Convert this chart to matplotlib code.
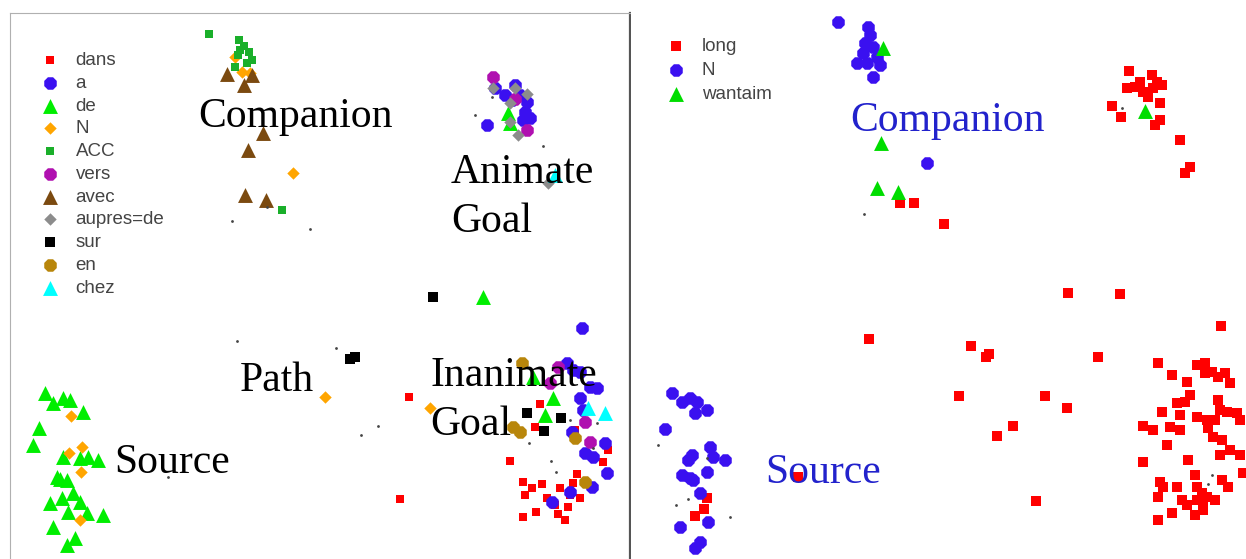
import matplotlib
matplotlib.use("Agg")
import matplotlib.pyplot as plt
import numpy as np

W, H = 1246, 559

# ---- left map: French prepositions ----
dans = [(409, 397), (400, 499), (510, 461), (540, 404), (535, 427), (523, 482), (525, 495),
        (532, 488), (542, 484), (523, 517), (536, 512), (558, 514), (547, 498), (560, 488),
        (570, 495), (580, 498), (568, 507), (577, 474), (573, 483), (603, 462), (608, 450),
        (575, 430), (555, 505), (565, 520)]
a_pts = [(495, 88), (505, 95), (515, 85), (520, 95), (527, 102), (525, 112), (523, 120),
         (512, 100), (487, 125), (530, 118),
         (582, 328), (567, 363), (573, 370), (580, 372), (590, 387), (597, 388), (580, 398),
         (583, 410), (572, 432), (605, 443), (585, 453), (593, 457), (607, 473), (570, 492),
         (552, 502), (592, 487)]
de = [(45, 393), (53, 403), (63, 398), (70, 400), (83, 412), (39, 428), (33, 445), (63, 457),
      (80, 458), (88, 457), (98, 460), (57, 477), (67, 480), (60, 479), (73, 493), (50, 503),
      (62, 498), (80, 502), (68, 512), (87, 513), (103, 515), (53, 527), (75, 538), (67, 545),
      (483, 297), (508, 113), (510, 123), (553, 398), (545, 415), (533, 377)]
n_fr = [(235, 57), (242, 72), (250, 73), (293, 173), (325, 397), (430, 408),
        (71, 416), (82, 447), (69, 453), (81, 472), (80, 520)]
acc = [(209, 34), (239, 40), (244, 46), (249, 52), (252, 60), (238, 55), (247, 63),
       (235, 67), (240, 50), (282, 210)]
vers = [(493, 77), (515, 99), (527, 130), (558, 367), (550, 383), (585, 422), (590, 442)]
avec = [(227, 74), (252, 75), (244, 85), (263, 133), (248, 150), (245, 195), (266, 200)]
aupres = [(493, 88), (515, 88), (527, 94), (510, 103), (510, 122), (518, 135), (548, 183)]
sur = [(433, 297), (350, 359), (355, 357), (527, 413), (544, 431), (561, 418)]
en = [(522, 363), (513, 427), (520, 432), (575, 438), (585, 482)]
chez = [(555, 175), (588, 408), (605, 413)]
dots_fr = [(232, 221), (310, 229), (267, 207), (492, 97), (475, 115), (543, 146), (237, 341),
           (168, 477), (336, 348), (361, 435), (378, 426), (529, 443), (551, 461), (556, 472),
           (570, 420), (597, 423), (593, 448)]

# ---- right map: Tok Pisin ----
long_pts = [(1129, 71), (1140, 82), (1152, 75), (1157, 82), (1162, 85), (1127, 88), (1135, 87),
            (1143, 92), (1148, 97), (1153, 88), (1160, 103), (1112, 106), (1121, 117),
            (1155, 125), (1160, 120), (1180, 140), (1190, 167), (1185, 173),
            (900, 203), (914, 203), (944, 224),
            (1068, 293), (1120, 294), (869, 339), (1221, 326), (971, 346), (986, 357), (989, 354),
            (1098, 357), (959, 396), (1045, 396), (1067, 408), (1013, 426), (997, 436),
            (1036, 501), (798, 477), (707, 498), (704, 509), (695, 516),
            (1158, 363), (1172, 375), (1187, 382), (1197, 365), (1205, 363), (1205, 373),
            (1212, 372), (1218, 377), (1225, 373), (1230, 383), (1190, 395), (1185, 402),
            (1177, 403), (1162, 412), (1180, 415), (1197, 417), (1207, 420), (1218, 400),
            (1220, 410), (1227, 412), (1237, 413), (1240, 420), (1215, 420), (1143, 426),
            (1153, 430), (1170, 427), (1180, 430), (1208, 428), (1213, 437), (1222, 440),
            (1230, 450), (1240, 455), (1220, 455), (1167, 445), (1143, 462), (1188, 460),
            (1243, 473), (1195, 475), (1160, 482), (1163, 487), (1177, 487), (1197, 487),
            (1202, 493), (1207, 497), (1215, 500), (1203, 505), (1197, 500), (1222, 480),
            (1228, 487), (1158, 497), (1182, 500), (1187, 505), (1158, 520), (1172, 513),
            (1195, 515), (1203, 510)]
n_tp = [(838, 22), (868, 27), (870, 35), (865, 43), (873, 47), (863, 53), (877, 57), (857, 63),
        (867, 63), (880, 65), (873, 77), (927, 163),
        (672, 393), (682, 402), (690, 398), (697, 402), (695, 413), (707, 410), (665, 429),
        (710, 447), (713, 457), (692, 455), (688, 460), (725, 460), (707, 472), (682, 475),
        (690, 478), (693, 480), (700, 493), (708, 522), (680, 527), (700, 542), (695, 548)]
wantaim = [(883, 48), (881, 143), (877, 188), (898, 192), (1145, 111)]
dots_tp = [(864, 214), (1122, 108), (658, 445), (676, 505), (688, 499), (730, 517),
           (707, 458), (1212, 475), (1208, 484)]

fr_series = [
    ("dans", dans, "s", "#ff0000", 38),
    ("a", a_pts, "8", "#3a10f0", 95),
    ("de", de, "^", "#00ee00", 115),
    ("N", n_fr, "D", "#ffa500", 40),
    ("ACC", acc, "s", "#1aaf2a", 38),
    ("vers", vers, "8", "#b010b0", 95),
    ("avec", avec, "^", "#7b4a10", 115),
    ("aupres=de", aupres, "D", "#8c8c8c", 40),
    ("sur", sur, "s", "#000000", 42),
    ("en", en, "8", "#b8860b", 95),
    ("chez", chez, "^", "#00ffff", 115),
]
tp_series = [
    ("long", long_pts, "s", "#ff0000", 42),
    ("N", n_tp, "8", "#3a10f0", 95),
    ("wantaim", wantaim, "^", "#00dd00", 115),
]

fig = plt.figure(figsize=(W / 100, H / 100), dpi=100)
fig.patch.set_facecolor("white")


def make_ax(x0, x1, y0, y1):
    ax = fig.add_axes([x0 / W, 1 - y1 / H, (x1 - x0) / W, (y1 - y0) / H])
    ax.set_xlim(x0, x1)
    ax.set_ylim(y1, y0)
    ax.set_xticks([])
    ax.set_yticks([])
    return ax


def draw(ax, series, dots):
    for name, pts, mk, col, size in series:
        xy = np.array(pts, dtype=float)
        ax.scatter(xy[:, 0], xy[:, 1], marker=mk, s=size, c=col, linewidths=0,
                   label=name, zorder=3)
    d = np.array(dots, dtype=float)
    ax.scatter(d[:, 0], d[:, 1], s=4, c="#444444", linewidths=0, zorder=3,
               label="_nolegend_")


def add_legend(ax, x_handle, y_top, rowpad):
    leg = ax.legend(loc="upper left", bbox_to_anchor=(x_handle / W, 1 - y_top / H),
                    bbox_transform=fig.transFigure, frameon=False, borderpad=0,
                    borderaxespad=0, handlelength=1.0,
                    handletextpad=0.85, labelspacing=rowpad, scatterpoints=1,
                    prop={"family": "Liberation Sans", "size": 13.5})
    for t in leg.get_texts():
        t.set_color("#444444")
    return leg


serif = {"family": "Liberation Serif", "size": 30}

# left panel
ax1 = make_ax(10, 630, 13, 570)
for side in ["left", "top"]:
    ax1.spines[side].set_color("#b0b0b0")
ax1.spines["right"].set_color("#555555")
ax1.spines["right"].set_linewidth(1.6)
ax1.spines["bottom"].set_visible(False)
draw(ax1, fr_series, dots_fr)
add_legend(ax1, 41, 52, 0.30)
ax1.text(198, 127, "Companion", fontdict=serif, color="black", zorder=5)
ax1.text(451, 183, "Animate", fontdict=serif, color="black", zorder=5)
ax1.text(451, 232, "Goal", fontdict=serif, color="black", zorder=5)
ax1.text(240, 391, "Path", fontdict=serif, color="black", zorder=5)
ax1.text(114, 473, "Source", fontdict=serif, color="black", zorder=5)
ax1.text(430, 386, "Inanimate", fontdict=serif, color="black", zorder=5)
ax1.text(430, 435, "Goal", fontdict=serif, color="black", zorder=5)

# right panel
ax2 = make_ax(631, W, 0, H)
for side in ax2.spines:
    ax2.spines[side].set_visible(False)
draw(ax2, tp_series, dots_tp)
add_legend(ax2, 667, 38, 0.36)
ax2.text(850, 131, "Companion", fontdict=serif, color="#2222cc", zorder=5)
ax2.text(765, 483, "Source", fontdict=serif, color="#2222cc", zorder=5)

fig.savefig("out.png", dpi=100)
